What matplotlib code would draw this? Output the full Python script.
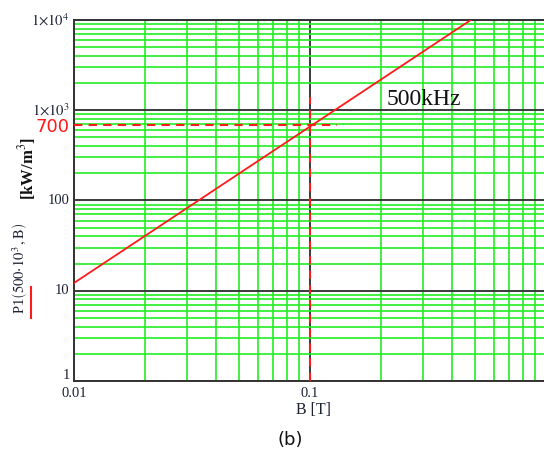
import matplotlib
matplotlib.use("Agg")
import matplotlib.pyplot as plt
from matplotlib.ticker import FixedLocator, NullFormatter
import numpy as np

# data
B = [0.01, 0.48]             # flux density [T]
P = [12.2, 10000.0]          # loss density [kW/m^3]
B_mark = 0.1
P_mark = 680
y_ticks = [1, 10, 100, 1000, 10000]
y_ticklabels = ["1", "10", "100", r"$1{\times}10^3$", r"$1{\times}10^4$"]
x_ticks = [0.01, 0.1]
x_ticklabels = ["0.01", "0.1"]

plt.rcParams['mathtext.fontset'] = 'stix'
serif = 'Liberation Serif'
tick_clr = '#1c2233'
green = '#22ee22'

fig = plt.figure(figsize=(5.44, 4.61), dpi=100)
ax = fig.add_axes([74/544, 80/461, 472/544, 361/461])
ax.set_xscale('log')
ax.set_yscale('log')
ax.set_xlim(0.01, 1)
ax.set_ylim(1, 1e4)

# minor (green) and major (dark) grid
minor = [m * 10.0**e for e in range(-2, 5) for m in range(2, 10)]
ax.xaxis.set_minor_locator(FixedLocator(minor))
ax.yaxis.set_minor_locator(FixedLocator(minor))
ax.xaxis.set_minor_formatter(NullFormatter())
ax.yaxis.set_minor_formatter(NullFormatter())
ax.set_xticks([0.01, 0.1, 1])
ax.set_yticks(y_ticks)
ax.set_xticklabels([])
ax.set_yticklabels([])
ax.tick_params(which='both', length=0)
ax.grid(True, which='minor', color=green, lw=1.2, zorder=1)
ax.grid(True, which='major', color='#3a3a3a', lw=1.4, zorder=2)
ax.set_axisbelow(True)
for s in ax.spines.values():
    s.set_color('#333333')
    s.set_linewidth(1.4)

# curve and marker lines
ax.plot(B, P, color='#ff1a1a', lw=1.3, zorder=4)
ax.plot([0.01, 0.13], [P_mark, P_mark], color='#ff1a1a', lw=1.5, ls=(0, (4, 3)), zorder=4)
ax.plot([B_mark, B_mark], [1, 1400], color='#ff1a1a', lw=1.5, ls=(0, (4, 3)), zorder=4)

# tick labels
for v, t in zip(y_ticks, y_ticklabels):
    dy = 4 if v == 1 else 0
    ax.annotate(t, (0.01, v), xytext=(-3, dy), textcoords='offset points',
                ha='right', va='center', fontsize=10.5, family=serif,
                color=tick_clr, annotation_clip=False)
for v, t in zip(x_ticks, x_ticklabels):
    ax.annotate(t, (v, 1), xytext=(0, -4), textcoords='offset points',
                ha='center', va='top', fontsize=10.5, family=serif,
                color=tick_clr, annotation_clip=False)

ax.annotate("700", (0.01, P_mark), xytext=(-3, -1), textcoords='offset points',
            ha='right', va='center', fontsize=13, color='#ff1a1a',
            family='DejaVu Sans', annotation_clip=False)
ax.text(0.212, 1000, "500kHz", fontsize=17, family=serif,
        ha='left', va='bottom', color='#111111', zorder=5)

# axis labels
fig.text(313/544, 1 - 410/461, "B [T]", fontsize=11.5, family=serif,
         ha='center', va='center', color=tick_clr)
fig.text(290/544, 1 - 440/461, "(b)", fontsize=13, family='DejaVu Sans',
         ha='center', va='center', color='#111111')
fig.text(27/544, 1 - 168/461, r"[kW/m$^3$]", fontsize=12, family=serif,
         weight='bold', rotation=90, ha='center', va='center', color='#111111')
fig.text(20/544, 1 - 268/461, r"P1$\left(500{\cdot}10^3\,,\mathrm{B}\right)$",
         fontsize=10.5, family=serif, rotation=90, ha='center', va='center',
         color=tick_clr)
fig.add_artist(plt.Line2D([31/544, 31/544], [1 - 318/461, 1 - 287/461],
                          color='#ff1a1a', lw=1.5))

fig.savefig("out.png", dpi=100)
